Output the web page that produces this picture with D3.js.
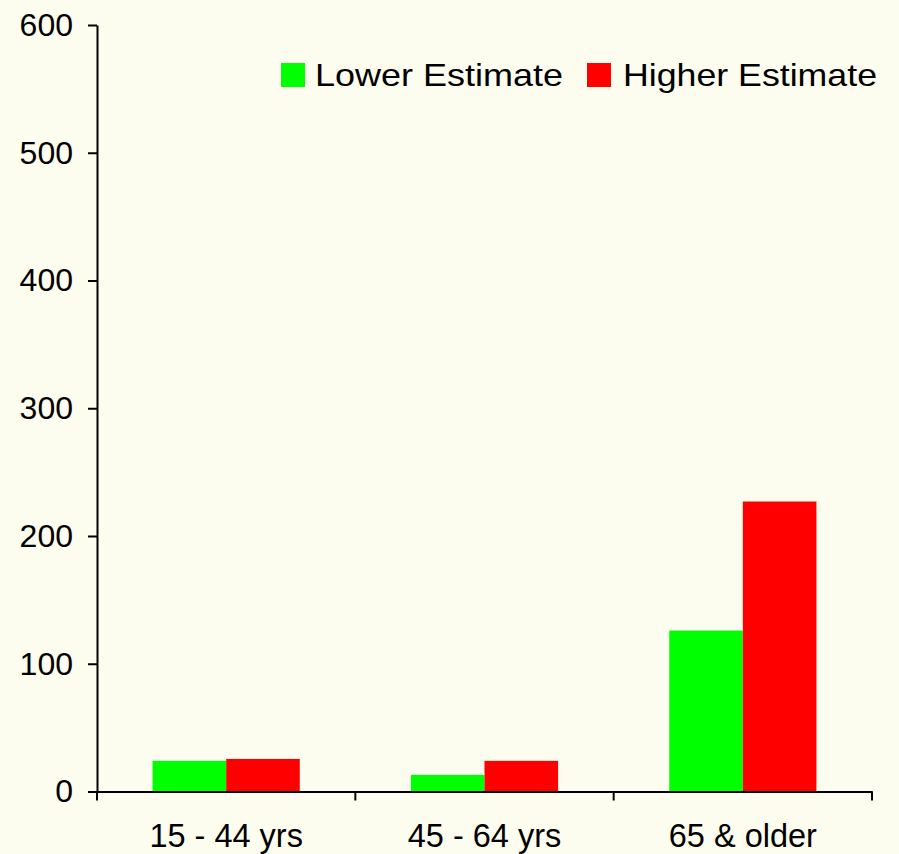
<!DOCTYPE html>
<html>
<head>
<meta charset="utf-8">
<script src="https://cdn.jsdelivr.net/npm/d3@7"></script>
<style>
  body { margin: 0; background: #fcfdee; }
  svg { display: block; font-family: Arial, "Liberation Sans", sans-serif; }
</style>
</head>
<body>
<div id="chart"></div>
<script>
var categories = ["15 - 44 yrs", "45 - 64 yrs", "65 & older"];
var seriesNames = ["Lower Estimate", "Higher Estimate"];
var lowerValues = [24, 13, 126];
var higherValues = [25.5, 24, 227];
var yTicks = [0, 100, 200, 300, 400, 500, 600];
var colours = ["#00ff00", "#ff0000"];

function init() {
    var w = 899;
    var h = 854;
    var left = 97, right = 872, top = 25, bottom = 791.5;

    // one row per category, with both estimates
    var dataset = categories.map(function(c, i) {
        return { cat: c, values: [lowerValues[i], higherValues[i]] };
    });

    var svg = d3.select("#chart")
        .append("svg")
        .attr("width", w)
        .attr("height", h);

    var xScale = d3.scaleBand()
        .domain(categories)
        .range([left, right]);

    var xSub = d3.scaleBand()
        .domain(seriesNames)
        .range([0, xScale.bandwidth()])
        .paddingOuter(0.755);

    var yScale = d3.scaleLinear()
        .domain([0, 600])
        .range([bottom, top]);

    // bars
    var groups = svg.selectAll("g.group")
        .data(dataset)
        .enter()
        .append("g")
        .attr("class", "group")
        .attr("transform", function(d) { return "translate(" + xScale(d.cat) + ",0)"; });

    groups.selectAll("rect")
        .data(function(d) { return d.values.map(function(v, j) { return { name: seriesNames[j], v: v, j: j }; }); })
        .enter()
        .append("rect")
        .attr("x", function(d) { return xSub(d.name); })
        .attr("width", xSub.bandwidth())
        .attr("y", function(d) { return yScale(d.v); })
        .attr("height", function(d) { return yScale(0) - yScale(d.v); })
        .attr("fill", function(d) { return colours[d.j]; });

    // y axis
    var yAxis = d3.axisLeft(yScale)
        .tickValues(yTicks)
        .tickSize(9)
        .tickSizeOuter(0)
        .tickPadding(15);

    var gy = svg.append("g")
        .attr("transform", "translate(" + left + ",0)")
        .call(yAxis);
    gy.select(".domain").attr("stroke", "#000").attr("stroke-width", 2);
    gy.selectAll(".tick line").attr("stroke", "#000").attr("stroke-width", 2);
    gy.selectAll(".tick text").attr("font-size", 32).attr("fill", "#000")
        .attr("font-family", "Arial, 'Liberation Sans', sans-serif");

    // x axis: labels from axis, ticks at band edges
    var xAxis = d3.axisBottom(xScale)
        .tickSize(0)
        .tickSizeOuter(0)
        .tickPadding(32);

    var gx = svg.append("g")
        .attr("transform", "translate(0," + bottom + ")")
        .call(xAxis);
    gx.select(".domain").attr("stroke", "#000").attr("stroke-width", 2);
    gx.selectAll(".tick text").attr("font-size", 32.5).attr("fill", "#000")
        .attr("font-family", "Arial, 'Liberation Sans', sans-serif");

    var edges = categories.map(function(c) { return xScale(c); }).concat([xScale(categories[categories.length - 1]) + xScale.bandwidth()]);
    gx.selectAll("line.edge")
        .data(edges)
        .enter()
        .append("line")
        .attr("class", "edge")
        .attr("x1", function(d) { return d; })
        .attr("x2", function(d) { return d; })
        .attr("y1", 0)
        .attr("y2", 9)
        .attr("stroke", "#000")
        .attr("stroke-width", 2);

    // legend
    var legendX = [281, 587];
    var legendTextX = [34, 36];
    var legendLen = [248, 254];
    var legend = svg.selectAll("g.legend")
        .data(seriesNames)
        .enter()
        .append("g")
        .attr("class", "legend")
        .attr("transform", function(d, i) { return "translate(" + legendX[i] + ",63)"; });

    legend.append("rect")
        .attr("width", 24)
        .attr("height", 24)
        .attr("fill", function(d, i) { return colours[i]; });

    legend.append("text")
        .attr("x", function(d, i) { return legendTextX[i]; })
        .attr("y", 23)
        .attr("font-size", 32)
        .attr("textLength", function(d, i) { return legendLen[i]; })
        .attr("lengthAdjust", "spacingAndGlyphs")
        .text(function(d) { return d; });
}

window.onload = init;
</script>
</body>
</html>
